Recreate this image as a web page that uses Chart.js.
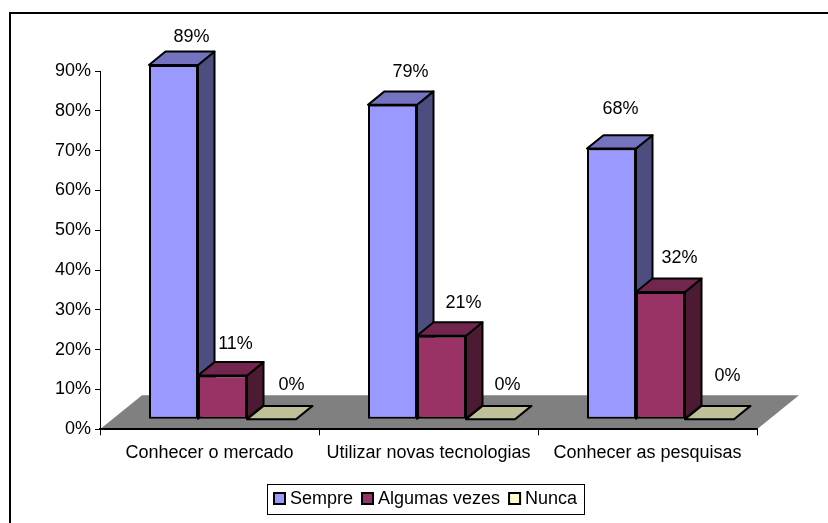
<!DOCTYPE html>
<html>
<head>
<meta charset="utf-8">
<style>
  html, body { margin: 0; padding: 0; background: #fff; }
  canvas { display: block; }
</style>
<script src="https://cdn.jsdelivr.net/npm/chart.js@4/dist/chart.umd.min.js"></script>
</head>
<body>
<canvas id="chart" width="828" height="523"></canvas>
<script>
const categories = ["Conhecer o mercado", "Utilizar novas tecnologias", "Conhecer as pesquisas"];
const seriesLabels = ["Sempre", "Algumas vezes", "Nunca"];
const sempre = [89, 79, 68];
const algumasVezes = [11, 21, 32];
const nunca = [0, 0, 0];
const seriesValues = [sempre, algumasVezes, nunca];

const FONT = '18px "Liberation Sans", Arial, sans-serif';

// pseudo-3D projection: bars sit a bit inside the floor, which recedes up and to the right
const BAR_SHIFT = { x: 13, y: -10 };
const BAR_DEPTH = { x: 16.5, y: -13.4 };
const FLOOR_DEPTH = { x: 42, y: -34 };

// face colours per series
const faces = [
  { front: "#9999FF", top: "#7373BF", side: "#4D4D80", swatch: "#9999FF" },
  { front: "#993366", top: "#73264D", side: "#4D1A33", swatch: "#993366" },
  { front: "#BFBF99", top: "#BFBF99", side: "#80806A", swatch: "#FFFFCC" },
];

// value labels are hand placed, offsets from each bar's top front centre
const labelDx = [[18, 18, 9], [13, 22, 19], [20, 17, 18]];
const labelDy = [[-28, -33, -40], [-31, -33, -34], [-34, -34, -43]];

function polygon(ctx, pts, fill) {
  ctx.beginPath();
  pts.forEach(([x, y], i) => (i ? ctx.lineTo(x, y) : ctx.moveTo(x, y)));
  ctx.closePath();
  ctx.fillStyle = fill;
  ctx.fill();
  ctx.stroke();
}

const frame3d = {
  id: "frame3d",
  // outer frame and floor go under everything else
  beforeDraw(chart) {
    const { ctx, scales: { x, y } } = chart;
    const y0 = y.getPixelForValue(0);
    ctx.save();
    ctx.fillStyle = "#000";
    ctx.fillRect(9, 12, chart.width - 9, 2);
    ctx.fillRect(9, 12, 2, chart.height - 12);
    ctx.fillStyle = "#808080";
    ctx.beginPath();
    ctx.moveTo(x.left, y0);
    ctx.lineTo(x.left + FLOOR_DEPTH.x, y0 + FLOOR_DEPTH.y);
    ctx.lineTo(x.right + FLOOR_DEPTH.x, y0 + FLOOR_DEPTH.y);
    ctx.lineTo(x.right, y0);
    ctx.closePath();
    ctx.fill();
    ctx.restore();
  },
  // draw series first to last so each one covers the side faces of the one before
  beforeDatasetsDraw(chart) {
    const ctx = chart.ctx;
    chart.data.datasets.forEach((ds, s) => {
      const meta = chart.getDatasetMeta(s);
      const face = faces[s];
      ctx.save();
      ctx.translate(BAR_SHIFT.x, BAR_SHIFT.y);
      meta.controller.draw();
      ctx.lineWidth = 2;
      ctx.strokeStyle = "#000";
      ctx.lineJoin = "round";
      meta.data.forEach((bar) => {
        const half = bar.width / 2;
        const l = bar.x - half, r = bar.x + half, t = bar.y, b = bar.base;
        const dx = BAR_DEPTH.x, dy = BAR_DEPTH.y;
        if (b - t > 0.5) {
          polygon(ctx, [[r, t], [r + dx, t + dy], [r + dx, b + dy], [r, b]], face.side);
        }
        polygon(ctx, [[l, t], [l + dx, t + dy], [r + dx, t + dy], [r, t]], face.top);
      });
      ctx.restore();
    });
    return false;
  },
  afterDraw(chart) {
    const ctx = chart.ctx;
    ctx.save();
    ctx.font = FONT;
    ctx.fillStyle = "#000";
    ctx.textAlign = "center";
    ctx.textBaseline = "middle";
    chart.data.datasets.forEach((ds, s) => {
      chart.getDatasetMeta(s).data.forEach((bar, i) => {
        ctx.fillText(ds.data[i] + "%",
          bar.x + BAR_SHIFT.x + labelDx[s][i],
          bar.y + BAR_SHIFT.y + labelDy[s][i]);
      });
    });

    // legend box
    const boxX = 267, boxY = 484, boxW = 317, boxH = 30;
    ctx.fillStyle = "#fff";
    ctx.strokeStyle = "#000";
    ctx.lineWidth = 1;
    ctx.fillRect(boxX, boxY, boxW, boxH);
    ctx.strokeRect(boxX + 0.5, boxY + 0.5, boxW, boxH);
    ctx.textAlign = "left";
    let lx = boxX + 7;
    chart.data.datasets.forEach((ds, s) => {
      ctx.fillStyle = faces[s].swatch;
      ctx.lineWidth = 2;
      ctx.fillRect(lx, boxY + 9, 11, 11);
      ctx.strokeRect(lx, boxY + 9, 11, 11);
      ctx.fillStyle = "#000";
      ctx.fillText(ds.label, lx + 16, boxY + 15.5);
      lx += 16 + ctx.measureText(ds.label).width + 9;
    });
    ctx.restore();
  },
};

new Chart(document.getElementById("chart"), {
  type: "bar",
  data: {
    labels: categories,
    datasets: seriesValues.map((values, s) => ({
      label: seriesLabels[s],
      data: values,
      backgroundColor: faces[s].front,
      borderColor: "#000",
      borderWidth: 2,
      borderSkipped: false,
    })),
  },
  options: {
    responsive: false,
    animation: false,
    categoryPercentage: 147 / 219,
    barPercentage: 1,
    layout: { padding: { top: 71, right: 71, left: 0, bottom: 0 } },
    plugins: { legend: { display: false }, tooltip: { enabled: false }, title: { display: false } },
    scales: {
      x: {
        afterFit: (scale) => { scale.height = 93.7; },
        grid: { drawOnChartArea: false, color: "#000", tickLength: 6, offset: true },
        border: { color: "#000", width: 2 },
        ticks: { color: "#000", font: { family: '"Liberation Sans"', size: 18 }, padding: 7, maxRotation: 0 },
      },
      y: {
        min: 0,
        max: 90,
        afterFit: (scale) => { scale.width = 100; },
        grid: { drawOnChartArea: false, color: "#000", tickLength: 5 },
        border: { color: "#000" },
        ticks: {
          stepSize: 10,
          color: "#000",
          font: { family: '"Liberation Sans"', size: 18 },
          padding: 4,
          callback: (v) => v + "%",
        },
      },
    },
  },
  plugins: [frame3d],
});
</script>
</body>
</html>
